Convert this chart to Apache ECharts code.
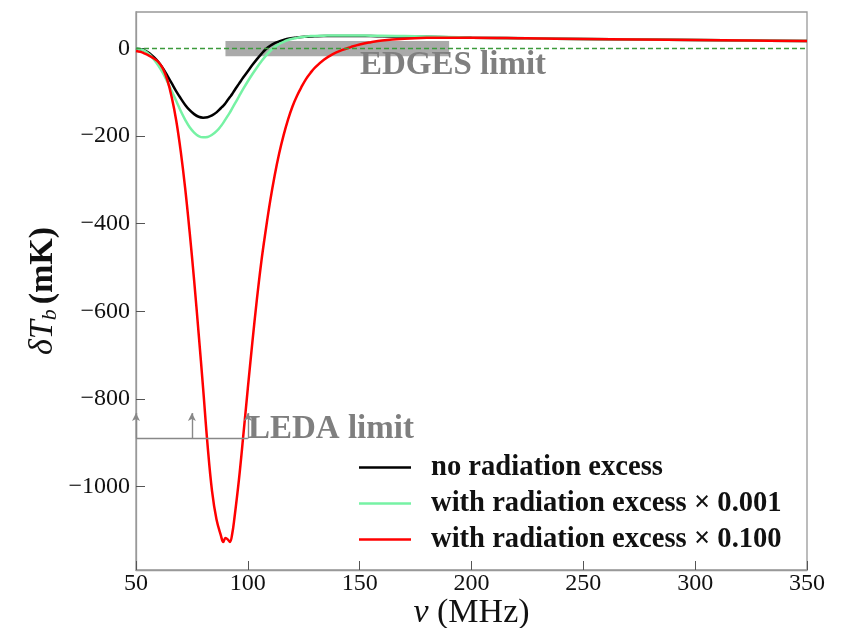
<!DOCTYPE html>
<html><head><meta charset="utf-8">
<script src="https://cdn.jsdelivr.net/npm/echarts@6/dist/echarts.min.js"></script>
<style>html,body{margin:0;padding:0;background:#fff}#c{width:847px;height:628px}</style>
</head><body><div id="c"></div>
<script>
// ---- data ----
const freq = [50,52,54,56,58,60,62,64,66,68,70,72,74,76,78,80,82,84,86,88,89,90,91,92,93,94,96,98,100,102,104,106,108,110,112,114,116,118,120,122,124,126,128,130,134,138,142,146,150,155,160,170,180,190,200,225,250,275,300,325,350];
const noExcess = [0,-2,-5,-11,-20,-31,-45,-62,-80,-98,-114,-129,-141,-150,-156,-158,-157,-153,-146,-136,-131,-125,-118,-111,-104,-96,-81,-66,-52,-38,-25,-13,-2,6,12,16,19,22,23.5,25,26,26.5,27,27.5,28,28,28,28,28,28,27.5,27,26.5,25.5,24.5,23,21.5,20.3,19,18,17];
const excess001 = [0,-2,-6,-14,-25,-39,-56,-76,-98,-120,-143,-163,-180,-192,-200,-203,-202,-197,-189,-177,-170,-162,-154,-146,-137,-128,-110,-92,-75,-59,-44,-30,-17,-6,3,10,15,19,22,24,26,27,28,28.5,29,29.5,29.5,29.5,29.5,29,29,28,27,26,24.5,23,21.5,20.3,19,18,17];
const excess100 = [-6,-8,-12,-17,-23,-31,-46,-72,-112,-165,-235,-320,-420,-530,-650,-775,-905,-1010,-1075,-1112,-1126,-1117,-1120,-1126,-1108,-1072,-985,-882,-775,-672,-575,-488,-415,-348,-290,-240,-198,-162,-132,-108,-88,-70,-56,-44,-26,-13,-4,3,9,14,18,22,24,24.5,24.5,23,21.5,20.3,19,18,17];
const seriesNames = ['no radiation excess','with radiation excess \u00d7 0.001','with radiation excess \u00d7 0.100'];
const xTicks = [50,100,150,200,250,300,350];
const yTicks = [-1000,-800,-600,-400,-200,0];
const edgesFreq = [90,190];
const edgesTemp = [-18,17];
const ledaLevel = -890;
const ledaArrowTop = -832;
const ledaFreq = [50,75,100];

// ---- chart ----
const serif = "'Liberation Serif', 'DejaVu Serif', serif";
const pairs = vals => freq.map((f,i)=>[f, vals[i]]);
const chart = echarts.init(document.getElementById('c'), null, {renderer:'canvas'});

const ledaLines = [[{coord:[ledaFreq[0], ledaLevel]},{coord:[ledaFreq[ledaFreq.length-1], ledaLevel]}]];
ledaFreq.forEach(f => ledaLines.push([{coord:[f, ledaLevel], symbol:'none'},{coord:[f, ledaArrowTop], symbol:'arrow', symbolSize:[6,8]}]));

chart.setOption({
  animation:false,
  backgroundColor:'#fff',
  grid:{left:136, right:40, top:12, bottom:58, containLabel:false, outerBoundsMode:'none',
    show:true, borderColor:'#999', borderWidth:1.3, backgroundColor:'transparent'},
  xAxis:{type:'value', min:50, max:350, interval:50,
    axisLine:{onZero:false, lineStyle:{color:'#999', width:1.3}},
    axisTick:{inside:true, length:9, lineStyle:{color:'#555', width:1}},
    axisLabel:{margin:2, color:'#111', fontFamily:serif, fontSize:24},
    splitLine:{show:false},
    name:'{i|\u03bd} (MHz)', nameLocation:'middle', nameGap:26, nameMoveOverlap:false,
    nameTextStyle:{color:'#111', fontFamily:serif, fontSize:34,
      rich:{i:{fontStyle:'italic', fontFamily:serif, fontSize:34, color:'#111'}}}
  },
  yAxis:{type:'value', min:-1190, max:83,
    axisLine:{lineStyle:{color:'#999', width:1.3}},
    axisTick:{inside:true, length:9, customValues:yTicks, lineStyle:{color:'#555', width:1}},
    axisLabel:{margin:6, color:'#111', fontFamily:serif, fontSize:24, customValues:yTicks,
      formatter:v => v < 0 ? '\u2212' + Math.abs(v) : String(v)},
    splitLine:{show:false},
    name:'{i|\u03b4T}{s|b}{n|(mK)}', nameLocation:'middle', nameGap:75, nameRotate:90, nameMoveOverlap:false,
    nameTextStyle:{color:'#111', fontFamily:serif,
      rich:{i:{fontStyle:'italic', fontFamily:serif, fontSize:34, color:'#111'},
            s:{fontStyle:'italic', fontFamily:serif, fontSize:22, color:'#111', padding:[14,5,0,0]},
            n:{fontWeight:'bold', fontFamily:serif, fontSize:34, color:'#111'}}}
  },
  legend:{data:seriesNames, orient:'vertical', left:354, top:448, icon:'rect', itemWidth:52, itemHeight:2.6, itemGap:7,
    textStyle:{fontFamily:serif, fontWeight:'bold', fontSize:28.6, color:'#111', lineHeight:28, padding:[0,0,0,15]}},
  graphic:[
    {type:'text', left:360, top:49, z:10, style:{text:'EDGES limit', font:"bold 33px 'Liberation Serif'", fill:'#7f7f7f'}},
    {type:'text', left:248, top:413, z:10, style:{text:'LEDA limit', font:"bold 33px 'Liberation Serif'", fill:'#7f7f7f'}}
  ],
  series:[
    {name:'annotations', type:'line', data:[], z:1, silent:true,
      markArea:{silent:true, itemStyle:{color:'#aaaaaa'}, label:{show:false},
        data:[[{coord:[edgesFreq[0], edgesTemp[1]]},{coord:[edgesFreq[1], edgesTemp[0]]}]]},
      markLine:{silent:true, symbol:['none','none'], label:{show:false},
        lineStyle:{color:'#3c9a3c', type:[5,3], width:1.3},
        data:[{yAxis:0}]}
    },
    {name:'leda', type:'line', data:[], z:1, silent:true,
      markLine:{silent:true, symbol:['none','none'], label:{show:false},
        lineStyle:{color:'#888', type:'solid', width:1.4},
        data:ledaLines}
    },
    {name:seriesNames[0], type:'line', data:pairs(noExcess), symbol:'none', smooth:0.4, z:3,
      lineStyle:{color:'#000', width:2.5}, itemStyle:{color:'#000'}},
    {name:seriesNames[1], type:'line', data:pairs(excess001), symbol:'none', smooth:0.4, z:3,
      lineStyle:{color:'#76f2a4', width:2.5}, itemStyle:{color:'#76f2a4'}},
    {name:seriesNames[2], type:'line', data:pairs(excess100), symbol:'none', smooth:0.4, z:3,
      lineStyle:{color:'#ff0000', width:2.5}, itemStyle:{color:'#ff0000'}}
  ]
});
</script></body></html>
